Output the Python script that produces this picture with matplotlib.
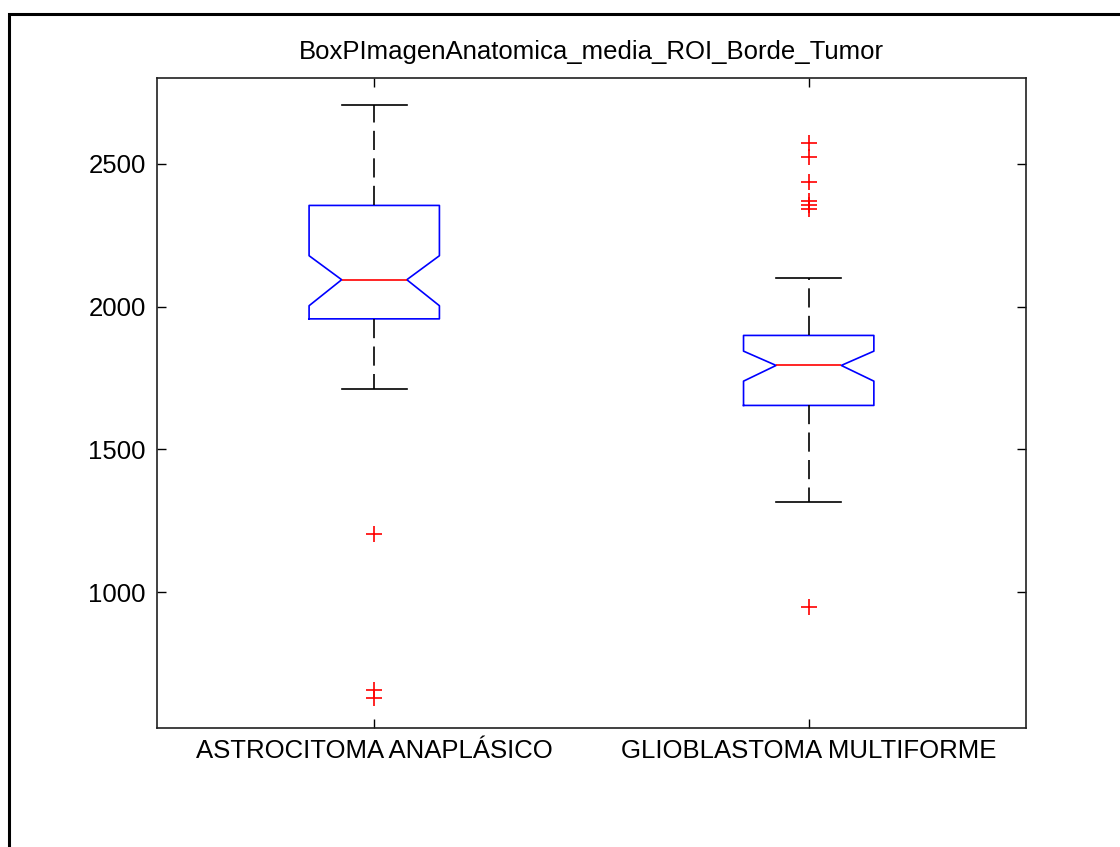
import matplotlib
matplotlib.use("Agg")
import matplotlib.pyplot as plt
from matplotlib.patches import Rectangle

plt.rcParams['font.family'] = ['Liberation Sans', 'DejaVu Sans']

# Estadisticas de cada grupo (media de la ROI en el borde del tumor)
grupos = ["ASTROCITOMA ANAPLÁSICO", "GLIOBLASTOMA MULTIFORME"]
q1 = [1957, 1654]
medianas = [2094, 1794]
q3 = [2354, 1899]
bigote_inf = [1710, 1317]
bigote_sup = [2704, 2101]
ic_inf = [2003, 1739]
ic_sup = [2178, 1844]
atipicos = [
    [1205, 658, 630],
    [2574, 2522, 2436, 2370, 2355, 2340, 947],
]
titulo = "BoxPImagenAnatomica_media_ROI_Borde_Tumor"

stats = []
for i, nombre in enumerate(grupos):
    stats.append({
        "label": nombre,
        "q1": q1[i],
        "med": medianas[i],
        "q3": q3[i],
        "whislo": bigote_inf[i],
        "whishi": bigote_sup[i],
        "cilo": ic_inf[i],
        "cihi": ic_sup[i],
        "fliers": atipicos[i],
    })

fig = plt.figure(figsize=(11.2, 8.47), dpi=100)
ax = fig.add_axes([0.1402, 0.1405, 0.7758, 0.7674])

ax.bxp(
    stats,
    positions=[1, 2],
    widths=0.3,
    shownotches=True,
    boxprops=dict(color="blue", linewidth=1.2),
    medianprops=dict(color="red", linewidth=1.2),
    whiskerprops=dict(color="black", linewidth=1.2, linestyle=(0, (11.5, 5))),
    capprops=dict(color="black", linewidth=1.2),
    flierprops=dict(marker="+", markeredgecolor="red", markersize=12,
                    markeredgewidth=1.2, linestyle="none"),
)

ax.set_xlim(0.5, 2.5)
ax.set_ylim(525, 2800)
ax.set_yticks([1000, 1500, 2000, 2500])
ax.set_xticks([1, 2])
ax.set_xticklabels(grupos)
ax.tick_params(direction="in", length=6.5, width=1.0, labelsize=18.5,
               top=True, right=True, pad=8)
for s in ax.spines.values():
    s.set_linewidth(1.2)
    s.set_color("#202020")
ax.set_title(titulo, fontsize=18.5, pad=14)

# marco exterior de la ventana
fig.patches.append(Rectangle((0.008, -0.1), 1.2, 0.9835 + 0.1,
                             transform=fig.transFigure, fill=False,
                             edgecolor="black", linewidth=2.2))

fig.savefig("out.png", dpi=100)
